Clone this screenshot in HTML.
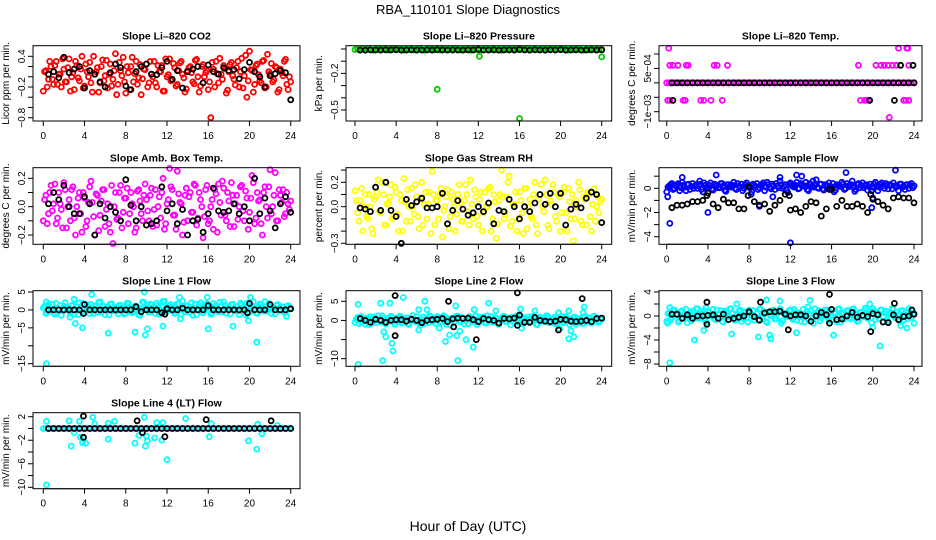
<!DOCTYPE html>
<html><head><meta charset="utf-8">
<style>
html,body{margin:0;padding:0;background:#fff;}
svg{display:block;font-family:"Liberation Sans",Arial,sans-serif;}
</style></head>
<body>
<svg id="chart" width="936" height="540" viewBox="0 0 936 540" xmlns="http://www.w3.org/2000/svg">
<rect x="0" y="0" width="936" height="540" fill="#fff"/>
<text x="468" y="14" text-anchor="middle" font-size="13">RBA_110101  Slope Diagnostics</text>
<text x="468" y="531" text-anchor="middle" font-size="14">Hour of Day (UTC)</text>
</svg>
<script>
const hours=[0,0.25,0.5,0.75,1,1.25,1.5,1.75,2,2.25,2.5,2.75,3,3.25,3.5,3.75,4,4.25,4.5,4.75,5,5.25,5.5,5.75,6,6.25,6.5,6.75,7,7.25,7.5,7.75,8,8.25,8.5,8.75,9,9.25,9.5,9.75,10,10.25,10.5,10.75,11,11.25,11.5,11.75,12,12.25,12.5,12.75,13,13.25,13.5,13.75,14,14.25,14.5,14.75,15,15.25,15.5,15.75,16,16.25,16.5,16.75,17,17.25,17.5,17.75,18,18.25,18.5,18.75,19,19.25,19.5,19.75,20,20.25,20.5,20.75,21,21.25,21.5,21.75,22,22.25,22.5,22.75,23,23.25,23.5,23.75,24];
const hours2=[0.125,0.375,0.625,0.875,1.125,1.375,1.625,1.875,2.125,2.375,2.625,2.875,3.125,3.375,3.625,3.875,4.125,4.375,4.625,4.875,5.125,5.375,5.625,5.875,6.125,6.375,6.625,6.875,7.125,7.375,7.625,7.875,8.125,8.375,8.625,8.875,9.125,9.375,9.625,9.875,10.125,10.375,10.625,10.875,11.125,11.375,11.625,11.875,12.125,12.375,12.625,12.875,13.125,13.375,13.625,13.875,14.125,14.375,14.625,14.875,15.125,15.375,15.625,15.875,16.125,16.375,16.625,16.875,17.125,17.375,17.625,17.875,18.125,18.375,18.625,18.875,19.125,19.375,19.625,19.875,20.125,20.375,20.625,20.875,21.125,21.375,21.625,21.875,22.125,22.375,22.625,22.875,23.125,23.375,23.625,23.875];
const blackHours=[0.5,1,1.5,2,2.5,3,3.5,4,4.5,5,5.5,6,6.5,7,7.5,8,8.5,9,9.5,10,10.5,11,11.5,12,12.5,13,13.5,14,14.5,15,15.5,16,16.5,17,17.5,18,18.5,19,19.5,20,20.5,21,21.5,22,22.5,23,23.5,24];

const co2Values=[-0.28,0.12,-0.05,0.2,-0.15,0.3,0.05,-0.2,0.15,-0.1,0.35,0.0,-0.25,0.22,-0.08,0.4,-0.18,0.1,0.28,-0.3,0.05,0.18,-0.12,0.33,0.02,-0.22,0.25,-0.05,0.45,-0.15,0.12,0.38,-0.32,0.08,0.2,-0.1,0.3,-0.02,-0.35,0.15,0.25,-0.12,0.05,0.3,-0.2,0.1,0.22,-0.28,0.0,0.35,-0.06,0.18,-0.15,0.27,0.05,-0.3,0.12,0.2,-0.1,0.32,0.0,-0.18,0.24,0.08,-0.25,-0.8,0.15,0.3,-0.12,0.05,0.22,-0.32,0.1,0.28,-0.05,0.18,-0.2,0.36,0.02,-0.4,0.5,0.12,-0.15,0.25,-0.08,0.3,-0.22,0.44,0.06,-0.1,0.2,-0.3,0.15,0.02,0.34,-0.25,-0.1];
const co2Values2=[0.1,-0.2,0.3,-0.05,0.22,-0.15,0.05,0.35,-0.1,0.18,-0.28,0.08,0.3,-0.02,0.15,-0.22,0.25,0.0,-0.12,0.4,0.1,-0.3,0.2,-0.08,0.32,0.05,-0.18,0.12,-0.35,0.28,0.02,-0.1,0.2,-0.25,0.38,0.06,-0.15,0.24,-0.04,0.14,-0.2,0.3,0.0,-0.12,0.22,0.1,-0.28,0.35,0.04,-0.08,0.26,-0.18,0.12,0.3,-0.02,-0.24,0.18,0.08,-0.14,0.34,-0.3,0.2,0.0,0.12,-0.1,0.28,-0.2,0.06,0.36,-0.05,0.16,-0.26,0.24,0.02,-0.16,0.3,0.1,-0.22,0.42,-0.08,0.14,-0.3,0.22,0.04,-0.12,0.32,-0.2,0.1,0.26,-0.06,0.18,-0.25,0.08,0.3,-0.15,0.0];
const co2Black=[0.05,0.1,-0.02,0.38,0.08,0.15,0.2,-0.22,0.12,0.05,-0.1,-0.2,0.08,0.25,0.18,-0.18,-0.25,0.1,0.2,0.25,0.05,0.04,0.18,0.3,-0.05,0.12,-0.22,0.1,0.15,0.2,-0.12,0.23,0.1,0.05,0.18,0.12,0.14,-0.04,0.14,0.28,0.1,0.0,-0.2,0.02,0.06,0.12,0.08,-0.45];

const pressValues=[-0.005,0,-0.01,0.003,-0.008,0.002,-0.004,-0.011,0,0.004,-0.006,-0.002,0.003,-0.009,0.001,0.005,-0.007,-0.003,0.002,-0.01,0,-0.005,0.003,-0.008,-0.001,0.002,-0.006,-0.011,0.001,-0.004,0.003,-0.007,0,-0.009,0.002,-0.003,-0.006,0.001,-0.01,0.004,-0.002,-0.008,0.002,-0.005,0,-0.011,0.003,-0.004,0.001,-0.007,-0.002,0.002,-0.009,-0.003,0.004,-0.006,0,-0.01,0.002,-0.004,-0.008,0.001,-0.002,0.003,-0.007,0,-0.005,0.002,-0.009,-0.001,0.003,-0.006,-0.003,0.001,-0.01,0.002,-0.004,0,-0.008,0.003,-0.005,-0.002,0.001,-0.009,0.002,-0.006,0,0.003,-0.004,-0.01,0.001,-0.007,0.002,-0.003,0.004,-0.006,-0.008];
const pressBlack=[-0.008,-0.009,-0.007,-0.008,-0.009,-0.007,-0.008,-0.006,-0.009,-0.008,-0.007,-0.009,-0.008,-0.007,-0.009,-0.006,-0.008,-0.009,-0.007,-0.008,-0.009,-0.007,-0.008,-0.004,-0.009,-0.008,-0.007,-0.009,-0.008,-0.007,-0.009,-0.004,-0.008,-0.009,-0.007,-0.008,-0.009,-0.007,-0.008,-0.006,-0.009,-0.008,-0.007,-0.009,-0.008,-0.007,-0.009,-0.006];
const pressOutHours=[8,16,12.1,24];
const pressOutValues=[-0.33,-0.57,-0.06,-0.065];

const tempValues=[0,0,0,0,0,0,0,0,0,0,0,0,0,0,0,0,0,0,0,0,0,0,0,0,0,0,0,0,0,0,0,0,0,0,0,0,0,0,0,0,0,0,0,0,0,0,0,0,0,0,0,0,0,0,0,0,0,0,0,0,0,0,0,0,0,0,0,0,0,0,0,0,0,0,0,0,0,0,0,0,0,0,0,0,0,0,0,0,0,0,0,0,0,0,0,0,0];
const tempBlack=[0,0,0,0,0,0,0,0,0,0,0,0,0,0,0,0,0,0,0,0,0,0,0,0,0,0,0,0,0,0,0,0,0,0,0,0,0,0,0,0,0,0,0,0,0,0,0,0];
const tempOutHours=[0.2,0.3,0.6,1.1,1.9,2.1,4.6,4.9,5.9,18.6,20.3,20.8,21.1,21.5,21.9,22.3,23.5,22.5,23.3,23.4,0.1,0.3,1.6,1.8,3.3,3.6,4.3,5.4,18.8,19.2,19.4,19.6,23.0,23.2,23.5,21.6];
const tempOutValues=[1.2e-3,6.1e-4,6.1e-4,6.1e-4,6.1e-4,6.1e-4,6.1e-4,6.1e-4,6.1e-4,6.1e-4,6.1e-4,6.1e-4,6.1e-4,6.1e-4,6.1e-4,6.1e-4,6.1e-4,1.2e-3,1.2e-3,1.2e-3,-6.1e-4,-6.1e-4,-6.1e-4,-6.1e-4,-6.1e-4,-6.1e-4,-6.1e-4,-6.1e-4,-6.1e-4,-6.1e-4,-6.1e-4,-6.1e-4,-6.1e-4,-6.1e-4,-6.1e-4,-1.2e-3];
const tempBlackOutHours=[0.6,19.7,22.1,22.7,23.9];
const tempBlackOutValues=[-6.1e-4,-6.1e-4,-6.1e-4,6.1e-4,6.1e-4];

const ambValues=[-0.1,0.08,-0.05,0.15,0.02,-0.12,0.1,-0.02,0.17,-0.15,0.05,0.12,-0.08,0.0,0.1,-0.18,0.06,-0.1,0.14,0.03,-0.2,0.08,-0.06,0.12,-0.14,0.02,-0.18,-0.26,0.1,-0.08,0.15,-0.04,0.06,-0.12,0.1,0.0,-0.15,0.12,-0.05,0.08,0.05,-0.1,0.13,-0.02,-0.13,0.07,0.1,-0.16,0.02,0.27,0.12,-0.06,0.25,0.03,-0.2,0.08,-0.1,0.1,-0.04,0.15,-0.08,0.05,-0.22,0.12,-0.12,0.0,-0.16,0.09,0.16,-0.06,0.13,-0.1,0.04,0.17,-0.14,0.08,0.0,0.15,-0.1,0.06,-0.04,0.22,-0.12,0.1,0.05,-0.2,0.14,-0.08,0.26,0.0,0.24,-0.1,0.08,0.12,-0.05,0.02,0.04];
const ambValues2=[0.05,-0.12,0.1,-0.03,0.16,-0.08,0.02,-0.15,0.12,0.0,-0.1,0.14,-0.2,0.06,-0.05,0.1,-0.14,0.03,0.18,-0.07,0.09,-0.17,0.04,0.12,-0.02,-0.12,0.15,0.0,-0.09,0.1,-0.15,0.06,0.13,-0.05,0.02,-0.18,0.11,0.04,-0.1,0.16,-0.03,0.08,-0.14,0.12,0.0,-0.08,0.2,-0.12,0.05,0.14,-0.06,-0.16,0.09,0.02,-0.11,0.13,0.07,-0.04,0.16,-0.13,0.1,0.0,-0.07,0.15,-0.1,0.05,0.12,-0.18,0.03,0.18,-0.06,0.1,-0.14,0.08,0.02,-0.09,0.14,-0.03,0.11,-0.16,0.06,0.17,-0.08,0.04,-0.12,0.1,0.0,0.14,-0.05,0.08,-0.1,0.12,0.03,-0.07,0.1,-0.02];
const ambBlack=[0.02,0.1,0.05,0.15,0.0,-0.05,-0.05,0.07,0.02,-0.2,0.02,-0.08,0.0,-0.04,-0.1,0.19,0.01,-0.1,0.0,-0.13,-0.12,-0.1,0.14,-0.03,0.02,-0.12,-0.02,-0.2,-0.1,-0.09,-0.18,-0.05,0.13,-0.03,-0.04,-0.03,0.02,-0.05,0.0,-0.1,0.2,-0.05,0.06,-0.03,-0.15,0.02,0.07,-0.04];

const rhValues=[0.13,-0.05,0.05,-0.2,0.1,-0.1,0.0,-0.22,0.08,0.22,-0.05,0.1,-0.15,0.03,0.18,-0.08,0.12,-0.2,0.05,0.23,-0.12,0.0,0.15,-0.06,0.08,-0.18,0.2,0.02,-0.1,0.12,0.29,-0.15,0.05,0.1,-0.25,0.0,0.14,-0.08,0.06,-0.2,0.1,0.03,-0.12,0.18,-0.04,0.22,-0.1,0.08,-0.15,0.12,-0.05,0.0,0.15,-0.2,0.1,-0.26,0.05,0.3,-0.1,0.08,0.25,-0.12,0.02,-0.2,0.12,-0.05,0.15,-0.18,0.06,-0.1,0.2,-0.22,0.1,0.0,0.22,-0.15,0.05,0.18,-0.08,0.1,-0.2,0.12,-0.05,0.15,-0.1,-0.28,0.05,0.2,-0.12,0.08,-0.15,0.1,-0.2,0.15,0.0,-0.05,0.06];
const rhValues2=[0.05,-0.12,0.15,0.0,-0.08,0.1,-0.18,0.06,0.12,-0.04,0.2,-0.15,0.02,0.08,-0.1,0.16,-0.06,0.1,-0.2,0.04,0.14,-0.12,0.0,0.18,-0.08,0.06,-0.15,0.12,0.02,-0.22,0.1,0.05,-0.1,0.15,-0.03,0.08,-0.18,0.12,0.0,-0.06,0.18,-0.12,0.05,0.1,-0.15,0.02,0.14,-0.08,0.06,-0.2,0.12,0.0,0.16,-0.1,0.04,-0.14,0.1,0.08,-0.06,0.2,-0.16,0.02,0.12,-0.1,0.05,-0.22,0.15,0.0,-0.08,0.1,-0.15,0.06,0.18,-0.04,0.1,-0.18,0.02,0.12,-0.12,0.08,-0.05,0.16,-0.2,0.04,0.1,-0.1,0.0,0.14,-0.15,0.06,0.12,-0.08,0.02,-0.12,0.08,0.04];
const rhBlack=[-0.01,-0.02,-0.04,0.16,-0.03,0.2,-0.03,-0.08,-0.3,0.06,0.01,0.04,0.07,-0.01,-0.01,0.0,0.11,-0.14,-0.03,0.05,-0.02,-0.07,-0.05,0.0,-0.04,0.03,-0.14,-0.03,-0.04,0.06,0.0,-0.1,0.0,-0.04,0.03,0.1,0.02,0.11,0.0,0.11,-0.15,-0.02,0.02,-0.01,0.07,0.12,0.1,-0.13];

const sampleValues=[-0.3,0.2,0.4,0,0.3,-0.2,0.5,0.1,0.3,-0.1,0.4,0.2,0,0.35,-0.3,0.25,0.1,0.45,-0.15,0.3,0.05,0.4,0.2,-0.25,0.3,0.1,0.5,-0.1,0.2,0.35,0,0.45,0.15,-0.3,0.25,0.4,0.05,0.3,-0.2,0.5,0.1,0.35,-0.1,0.2,0.6,0,0.3,-0.35,0.45,0.15,0.25,-0.05,0.4,0.2,0.5,-0.2,0.3,0.1,0.7,0,0.35,-0.15,0.25,0.45,0.1,-0.3,0.3,0.2,0.5,-0.1,0.4,0.15,0.6,-0.25,0.3,0.05,0.45,0.2,-0.15,0.35,0.1,0.5,-0.2,0.3,0.2,0.4,-0.05,0.25,0.45,0.1,-0.2,0.35,0.15,0.3,0,0.4,0.2];
const sampleValues2=[0.1,0.3,-0.1,0.2,0.4,0.05,0.25,-0.2,0.35,0.15,0,0.3,0.2,-0.1,0.45,0.1,0.25,-0.05,0.35,0.2,0.05,0.4,-0.15,0.3,0.15,0.25,0,0.4,0.1,-0.2,0.3,0.2,0.05,0.35,0.15,-0.1,0.25,0.45,0.1,0.3,-0.05,0.2,0.4,0.05,0.3,0.15,-0.15,0.35,0.25,0.1,0.5,0,0.3,0.2,-0.1,0.4,0.15,0.25,0.05,0.35,-0.05,0.3,0.2,0.1,0.4,-0.15,0.25,0.15,0.35,0,0.2,0.3,0.1,-0.1,0.4,0.25,0.05,0.3,0.15,-0.2,0.35,0.2,0.1,0.45,0,0.25,0.3,-0.05,0.2,0.15,0.35,0.1,-0.1,0.3,0.25,0.05];
const sampleBlack=[-1.6,-1.4,-1.4,-1.3,-1.1,-1.1,-1.0,-0.4,-1.3,-1.6,-0.9,-1.2,-1.2,-1.7,-1.7,0.1,-1.1,-1.4,-1.3,-1.9,-1.4,-1.0,-0.5,-1.8,-1.7,-2.0,-1.5,-1.1,-1.2,-2.3,-1.7,-0.1,-1.5,-1.0,-1.5,-1.5,-1.3,-1.5,-2.0,-0.9,-1.1,-1.4,-1.7,-0.8,-0.7,-0.8,-0.8,-1.2];
const sampleOutHours=[0.1,0.3,1.5,3.2,4.0,4.8,9.0,10.3,11.0,12.0,12.6,13.1,14.2,17.4,19.9,22.2,20.0,8.2,24];
const sampleOutValues=[-0.7,-2.9,0.9,0.6,-2.0,1.1,-1.5,-0.7,0.9,-4.5,1.1,1.0,0.6,1.3,-1.6,1.5,-0.8,-0.5,0.2];
const sampleBlackOutHours=[3.9,7.9,11.9,15.8,19.8];
const sampleBlackOutValues=[-0.6,-0.6,-0.6,-0.1,-0.5];

const line1Values=[0.5,-1,1.5,0.2,-0.8,1.8,0,-1.5,1,0.6,-0.3,1.2,-1.2,0.8,2,-0.5,0.3,1.5,-1,0.4,1,-0.6,2.2,0.1,-1.3,0.9,1.6,-0.2,0.7,-1.1,1.3,0.2,-0.9,1.8,0.5,-0.4,1.1,-1.4,0.3,2.1,0.6,-0.7,1.4,0,1.9,-1.2,0.8,2.4,-0.3,1,0.4,-1,1.7,0.2,2.5,-0.6,1.2,0.5,-1.5,1.6,0.1,2,-0.8,1.3,0.6,-1.2,1.8,0.3,-0.5,1.1,2.2,-0.9,0.7,1.5,-0.2,0.9,-1.3,1.4,0.2,1.9,-0.7,1.1,0.4,-1,1.6,0.3,2.3,-0.4,1,0.6,-1.1,1.5,0.2,0.8,-0.6,1.2,0.4];
const line1Values2=[1,-0.5,0.8,1.6,-1.2,0.3,1.2,-0.2,2,0.5,-0.9,1.4,0,-1.3,0.9,1.8,-0.4,0.6,1.5,-1,0.2,2.1,-0.6,1,0.4,-1.4,1.7,0.1,-0.3,1.3,0.7,-1.1,1.9,0.2,-0.8,1.1,0.5,-1.5,2.2,0.3,-0.2,1.6,0.8,-1,1.2,0,2.4,-0.7,0.9,1.5,-0.4,0.6,1.8,-1.2,0.2,1,-0.6,2,0.4,-1.3,1.4,0.1,-0.2,1.7,0.8,-0.9,1.1,0.3,2.1,-0.5,1.3,0.6,-1.1,1.6,0.2,-0.4,1.9,0.7,-1.4,1.2,0.4,2.3,-0.8,0.9,1.5,-0.3,0.1,1.8,-1,0.6,1.3,-0.2,0.9,-0.7,1.1,0.5];
const line1Black=[0,0,0,0,0,0,0,1.5,0,0,0,0,0,0,0,0,0,0.9,-0.5,0,0,0,-0.8,0.3,0,0,0.5,0,0,0,0,1.2,0,0,0,0,0,0,0,1.8,0,0,0,1.5,0,0,0,0.3];
const line1OutHours=[0.3,0.3,2.6,3.1,3.8,3.0,4.7,6.3,8.9,9.9,10.1,9.8,11.6,13.3,13.2,16.0,15.9,18.4,19.9,20.1,20.7,23.6];
const line1OutValues=[-15,2.2,-2.0,-3.8,-5,3.0,4.3,-6.5,-6.2,-7,-5.3,5,-4.5,-2.5,3.5,-5.3,3.5,-4.5,-3,3.5,-9,-1.8];
const line1BlackOutHours=[3.9,11.8,19.8];
const line1BlackOutValues=[-1,-1.2,-0.8];

const line2Values=[-0.5,0.8,-0.2,0.5,-1,0.3,1,-0.6,0.2,1.2,-0.3,0.6,-0.9,0.4,1.1,-0.4,0.1,0.9,-0.7,0.3,0.7,-1.1,0.5,0,1,-0.5,0.2,-0.8,0.6,1.2,-0.3,0.4,1,-0.6,0.8,-0.2,0.5,-1.2,0.3,0.9,1.1,-0.4,0.6,0,-0.9,0.7,0.2,1.2,-0.5,0.4,0.9,-0.7,0.3,1,-0.2,0.6,-1,0.5,1.1,-0.3,0.2,0.8,-0.6,1.2,0.1,-0.8,0.7,0.3,-0.4,1,0.5,-1.1,0.9,-0.2,0.6,1.1,-0.5,0.3,-0.9,0.8,0.2,-0.6,1,0.4,-0.3,0.7,-1,0.5,0.1,0.9,-0.4,0.6,-0.7,1.1,0.2,-0.5,0.3];
const line2Values2=[0.3,-0.8,1,-0.2,0.6,-1.1,0.4,0.9,-0.5,0.2,1.2,-0.7,0.5,-0.1,0.8,-1,0.6,1.1,-0.4,0.2,-0.9,0.7,1.3,-0.3,0.1,-1.2,0.9,0.4,-0.6,1,0,-0.8,0.7,-0.2,1.2,-1,0.3,0.6,-0.5,1.1,-0.1,0.8,-0.9,0.4,1,-0.3,0.2,-1.1,0.9,0.5,-0.6,1.2,0,-0.4,0.7,-0.8,0.3,1,-0.2,0.6,-1.2,0.8,0.1,-0.5,1.1,-0.7,0.4,0.9,-0.3,0.2,-1,0.7,0.5,-0.1,1.2,-0.6,0.3,0.8,-0.9,0.1,1,-0.4,0.6,-1.1,0.2,0.9,-0.3,0.5,-0.8,1.1,0,0.7,-0.5,0.3,-0.2,0.6];
const line2Black=[0.5,0,-0.5,0.3,0,-0.5,0,0.2,0.2,-0.2,0.3,0,-0.6,0,0.2,0.3,0.5,-0.3,0.4,0.6,0.5,0.6,0.2,-0.3,0.5,0.2,0,-0.7,0.5,0.4,0.6,1.4,-0.5,-0.5,0.8,0,-0.2,-0.3,-0.2,0.3,0.2,-0.2,-0.3,-0.2,0,-0.3,0.5,0.6];
const line2OutHours=[0.3,0.3,2.5,2.8,3.0,2.7,3.4,3.6,3.7,4.7,6.2,6.2,6.8,7.0,8.2,8.8,9.2,9.8,9.9,10.0,10.2,10.8,11.5,11.6,13.0,13.7,16.1,16.2,17.5,19.8,19.9,20.8,20.8,21.0,21.3,22.3,22.2];
const line2OutValues=[4.2,-11.5,4.5,-3,-4.3,-10.5,4.5,-6,-8,6,2.8,-2.5,5,2.8,-2,-5.5,-3.8,3.8,-4,-10.5,-2.8,-5,-7,2.8,4.5,2.5,3,-2,2.5,2,-2.2,-4.8,2.5,-2.7,-4.3,3.5,2.0];
const line2BlackOutHours=[3.9,3.9,9.1,9.6,11.8,15.8,15.8,19.8,22.1];
const line2BlackOutValues=[6.5,-4,5,-1.7,-5,7.2,-1.3,-2.5,5.7];

const line3Values=[-0.9,0.6,-0.3,1,0.2,-0.7,0.9,0.1,-1.1,0.5,0.8,-0.4,1.2,-0.2,0.4,-0.8,0.7,0,1.1,-0.6,0.3,0.9,-1,0.5,-0.1,1.2,-0.5,0.2,0.8,-0.9,0.6,-0.3,1,0.1,-0.7,0.4,1.1,-0.2,0.7,-1.1,0.2,0.9,-0.5,0.5,1.2,-0.8,0.3,-0.1,1,-0.6,0.7,0,-0.9,1.1,0.4,-0.4,0.8,-1.2,0.2,0.9,-0.3,0.6,1,-0.7,0.1,0.5,-1,1.2,0.3,-0.5,0.8,-0.2,1.1,0.4,-0.9,0.6,0,1.3,-0.4,0.7,1.2,-0.6,0.3,1,-0.1,0.8,-1,0.5,1.1,-0.3,0.2,0.9,-0.7,0.6,1.2,-0.2,0.4];
const line3Values2=[0.4,-0.6,1,0.2,-1,0.7,-0.3,1.1,0,-0.8,0.5,1.2,-0.4,0.3,0.9,-1.1,0.6,0.1,-0.5,1,0.3,-0.9,0.8,-0.2,1.2,0.5,-0.7,0.2,1,-0.4,0.7,-1,0.4,0.9,-0.1,-0.6,1.1,0.3,-0.9,0.6,0,1,-0.5,0.8,-1.2,0.4,0.2,0.9,-0.3,1.1,-0.7,0.5,0.1,-1,0.8,0.3,-0.4,1.2,0.6,-0.8,0.2,1,-0.2,0.7,-0.6,0.4,1.1,-1,0.5,0,0.9,-0.5,1.2,0.3,-0.8,0.6,-0.1,1,0.4,-1.1,0.8,0.2,-0.4,1,0.5,-0.7,0.3,1.2,-0.2,0.6,-0.9,0.9,0.1,-0.5,0.7,0.3];
const line3Black=[0.3,0.3,-0.4,0.2,-0.4,0,0,0.1,0.2,-0.4,0.3,-0.6,-0.4,-0.2,0,0.7,-0.1,-0.7,0.5,0.7,0.7,0.8,0.3,0,0.2,0.2,0,-0.9,0,0.6,0.2,1.1,-0.6,-0.5,0,0.6,-0.2,0.1,-0.1,0.4,0.2,-1,-1.1,0.2,-0.6,-0.1,0,0.3];
const line3OutHours=[0.1,0.3,0.3,2.7,3.6,3.8,6.3,6.8,8.9,9.7,10.0,10.1,11.0,12.6,13.7,13.9,16.2,17.5,19.7,20.0,20.7,22.7,23.3,24];
const line3OutValues=[-1.2,1.4,-7.8,-4,-2.4,1.4,-3,2,-3.5,2.7,-3.2,-3.8,2.5,-2.8,1.5,2.6,-3.2,0.9,2,-1.9,-5,-1.6,-2,-1.2];
const line3BlackOutHours=[3.9,3.9,9.1,11.8,15.8,15.8,19.8,22.1,23.8];
const line3BlackOutValues=[2.3,-1.4,2.3,-2.3,3.6,-1.2,-2.6,2.1,1.0];

const line4Values=[0,0,0,0,0,0,0,0,0,0,0,0,0,0,0,0,0,0,0,0,0,0,0,0,0,0,0,0,0,0,0,0,0,0,0,0,0,0,0,0,0,0,0,0,0,0,0,0,0,0,0,0,0,0,0,0,0,0,0,0,0,0,0,0,0,0,0,0,0,0,0,0,0,0,0,0,0,0,0,0,0,0,0,0,0,0,0,0,0,0,0,0,0,0,0,0,0];
const line4Black=[0,0,0,0,0,0,0,0,0,0,0,0,0,0,0,0,0,0,0,0,0,0,0,0,0,0,0,0,0,0,0,0,0,0,0,0,0,0,0,0,0,0,0,0,0,0,0,0];
const line4OutHours=[0.3,0.3,2.5,2.7,3.0,3.5,3.6,3.8,4.1,4.8,5.0,6.3,6.3,6.9,8.9,9.3,9.8,9.9,10.1,10.0,10.8,11.0,11.5,11.6,12.0,13.8,16.1,16.3,19.9,20.7,20.8,21.2,22.7];
const line4OutValues=[1.2,-9.6,1.3,-3,-0.7,1.2,-1.5,-2.4,-2.5,1.9,0.8,-1.8,0.9,1.2,-2.5,-1.2,1.9,-3,-2.1,-1.3,-1.6,1,-2,1,-5.3,1.7,-1.4,0.8,-2.1,-3.5,0.7,-0.9,0.5];
const line4BlackOutHours=[3.9,3.9,9.1,9.6,11.8,15.8,22.1];
const line4BlackOutValues=[2.1,-1.5,1.3,-0.7,-1.4,1.5,1.3];

const xTicks=[0,4,8,12,16,20,24];

const NS='http://www.w3.org/2000/svg';
const svg=document.getElementById('chart');
function el(tag,attrs,parent){const e=document.createElementNS(NS,tag);for(const k in attrs)e.setAttribute(k,attrs[k]);(parent||svg).appendChild(e);return e;}

const cols=[{x0:33,x1:300,h0:43.3,h24:290.7},{x0:346,x1:611.7,h0:355,h24:601.7},{x0:659,x1:922,h0:666.7,h24:914}];
const rows=[{y0:45.7,y1:121},{y0:167.7,y1:244.3},{y0:290.7,y1:366.3},{y0:412.7,y1:488.7}];

const panels=[
 {name:'co2',title:'Slope Li\u2013820 CO2',ylab:'Licor ppm per min.',c:0,r:0,color:'#ff0000',v1:0.4,p1:56.3,v2:-0.8,p2:117.7,ticks:[0.4,0.2,0,-0.2,-0.4,-0.6,-0.8],labels:['0.4',null,null,'\u22120.2',null,null,'\u22120.8'],main:co2Values,main2:co2Values2,black:co2Black},
 {name:'pressure',title:'Slope Li\u2013820 Pressure',ylab:'kPa per min.',c:1,r:0,color:'#00cc00',v1:0,p1:49,v2:-0.5,p2:110,ticks:[0,-0.1,-0.2,-0.3,-0.4,-0.5],labels:[null,null,'\u22120.2',null,null,'\u22120.5'],main:pressValues,black:pressBlack,outH:pressOutHours,outV:pressOutValues},
 {name:'temp',title:'Slope Li\u2013820 Temp.',ylab:'degrees C per min.',c:2,r:0,color:'#ff00ff',v1:1e-3,p1:54,v2:-1e-3,p2:111.7,ticks:[1e-3,5e-4,0,-5e-4,-1e-3],labels:[null,'5e\u221204',null,null,'\u22121e\u221203'],main:tempValues,black:tempBlack,outH:tempOutHours,outV:tempOutValues,bOutH:tempBlackOutHours,bOutV:tempBlackOutValues},
 {name:'amb-box-temp',title:'Slope Amb. Box Temp.',ylab:'degrees C per min.',c:0,r:1,color:'#ff00ff',v1:0.2,p1:178.3,v2:-0.2,p2:235,ticks:[0.2,0.1,0,-0.1,-0.2],labels:['0.2',null,'0.0',null,'\u22120.2'],main:ambValues,main2:ambValues2,black:ambBlack},
 {name:'gas-stream-rh',title:'Slope Gas Stream RH',ylab:'percent per min.',c:1,r:1,color:'#ffff00',v1:0.2,p1:182.3,v2:-0.3,p2:243.3,ticks:[0.3,0.2,0.1,0,-0.1,-0.2,-0.3],labels:[null,'0.2',null,'0.0',null,null,'\u22120.3'],main:rhValues,main2:rhValues2,black:rhBlack},
 {name:'sample-flow',title:'Slope Sample Flow',ylab:'mV/min per min.',c:2,r:1,color:'#0000ff',v1:0,p1:188.3,v2:-4,p2:236.7,ticks:[1,0,-1,-2,-3,-4],labels:[null,'0',null,'\u22122',null,'\u22124'],main:sampleValues,main2:sampleValues2,black:sampleBlack,outH:sampleOutHours,outV:sampleOutValues,bOutH:sampleBlackOutHours,bOutV:sampleBlackOutValues},
 {name:'line1-flow',title:'Slope Line 1 Flow',ylab:'mV/min per min.',c:0,r:2,color:'#00ffff',v1:5,p1:292,v2:-15,p2:363.7,ticks:[5,0,-5,-10,-15],labels:['5','0','\u22125',null,'\u221215'],main:line1Values,main2:line1Values2,black:line1Black,outH:line1OutHours,outV:line1OutValues,bOutH:line1BlackOutHours,bOutV:line1BlackOutValues},
 {name:'line2-flow',title:'Slope Line 2 Flow',ylab:'mV/min per min.',c:1,r:2,color:'#00ffff',v1:5,p1:301.3,v2:-10,p2:358.7,ticks:[5,0,-5,-10],labels:['5','0',null,'\u221210'],main:line2Values,main2:line2Values2,black:line2Black,outH:line2OutHours,outV:line2OutValues,bOutH:line2BlackOutHours,bOutV:line2BlackOutValues},
 {name:'line3-flow',title:'Slope Line 3 Flow',ylab:'mV/min per min.',c:2,r:2,color:'#00ffff',v1:4,p1:292,v2:-8,p2:364,ticks:[4,2,0,-2,-4,-6,-8],labels:['4',null,'0',null,'\u22124',null,'\u22128'],main:line3Values,main2:line3Values2,black:line3Black,outH:line3OutHours,outV:line3OutValues,bOutH:line3BlackOutHours,bOutV:line3BlackOutValues},
 {name:'line4-flow',title:'Slope Line 4 (LT) Flow',ylab:'mV/min per min.',c:0,r:3,color:'#00ffff',v1:2,p1:416.7,v2:-10,p2:487.3,ticks:[2,0,-2,-4,-6,-8,-10],labels:['2',null,'\u22122',null,'\u22126',null,'\u221210'],main:line4Values,black:line4Black,outH:line4OutHours,outV:line4OutValues,bOutH:line4BlackOutHours,bOutV:line4BlackOutValues}
];

function pt(g,x,y,color,sw){
 const c=el('circle',{cx:x.toFixed(1),cy:y.toFixed(1),r:2.5,fill:'none',stroke:color,'stroke-width':sw},g);
 
 
}

panels.forEach(p=>{
 const C=cols[p.c],R=rows[p.r];
 const xs=h=>C.h0+(h/24)*(C.h24-C.h0);
 const ys=v=>p.p1+(v-p.v1)*(p.p2-p.p1)/(p.v2-p.v1);
 const g=el('g',{});
 
 
 const t=el('text',{x:((C.x0+C.x1)/2).toFixed(1),y:(R.y0-6).toFixed(1),'text-anchor':'middle','font-size':'10.5','font-weight':'bold'},g);
 t.textContent=p.title;
 
 
 const yl=el('text',{transform:`translate(${C.x0-24},${((R.y0+R.y1)/2).toFixed(1)}) rotate(-90)`,'text-anchor':'middle','font-size':'10'},g);
 yl.textContent=p.ylab;
 
 
 const pg=el('g',{},g);
 
 
 p.main.forEach((v,i)=>pt(pg,xs(hours[i]),ys(v),p.color,1.8));
 if(p.main2)p.main2.forEach((v,i)=>pt(pg,xs(hours2[i]),ys(v),p.color,1.8));
 if(p.outH)p.outH.forEach((h,i)=>pt(pg,xs(h),ys(p.outV[i]),p.color,1.8));
 const bg=el('g',{},g);
 
 
 p.black.forEach((v,i)=>pt(bg,xs(blackHours[i]),ys(v),'#000',1.8));
 if(p.bOutH)p.bOutH.forEach((h,i)=>pt(bg,xs(h),ys(p.bOutV[i]),'#000',1.8));
 const b=el('rect',{x:C.x0,y:R.y0,width:(C.x1-C.x0).toFixed(1),height:(R.y1-R.y0).toFixed(1),fill:'none',stroke:'#000','stroke-width':1},g);
 
 
 const xa=el('g',{},g);
 
 
 el('line',{x1:xs(xTicks[0]),x2:xs(xTicks[xTicks.length-1]),y1:R.y1,y2:R.y1,stroke:'#000'},xa);
 xTicks.forEach(h=>{
  el('line',{x1:xs(h),x2:xs(h),y1:R.y1,y2:R.y1+5,stroke:'#000'},xa);
  const tx=el('text',{x:xs(h),y:R.y1+18,'text-anchor':'middle','font-size':'10'},xa);
  tx.textContent=String(h);
  
  
 });
 const ya=el('g',{},g);
 
 
 el('line',{x1:C.x0,x2:C.x0,y1:ys(p.ticks[0]),y2:ys(p.ticks[p.ticks.length-1]),stroke:'#000'},ya);
 p.ticks.forEach((v,i)=>{
  const y=ys(v);
  el('line',{x1:C.x0-5,x2:C.x0,y1:y,y2:y,stroke:'#000'},ya);
  if(p.labels[i]){
   const tl=el('text',{transform:`translate(${C.x0-8},${y.toFixed(1)}) rotate(-90)`,'text-anchor':'middle','font-size':'10'},ya);
   tl.textContent=p.labels[i];
   
   
  }
 });
});
</script>
</body></html>
